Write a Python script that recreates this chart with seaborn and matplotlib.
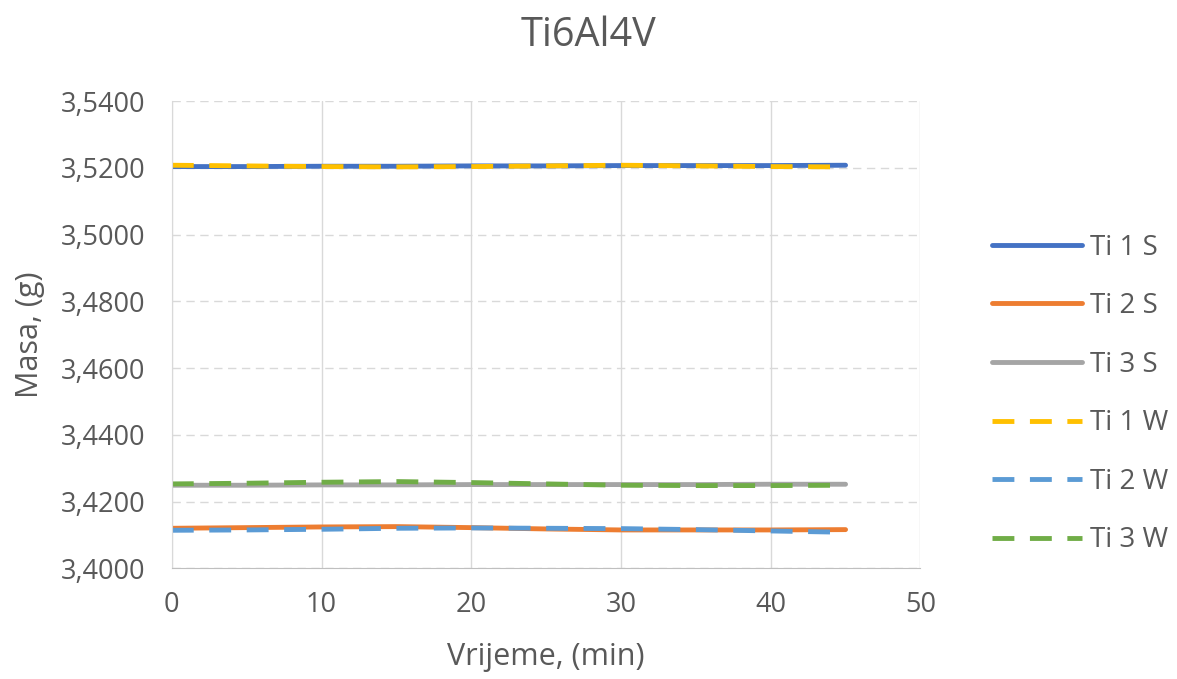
import numpy as np
import pandas as pd
import seaborn as sns
import matplotlib.pyplot as plt
from matplotlib.ticker import FuncFormatter

vrijeme = [0, 5, 10, 15, 20, 25, 30, 35, 40, 45]
ti1_s = [3.5204, 3.5204, 3.5205, 3.5205, 3.5206, 3.5206, 3.5207, 3.5207, 3.5207, 3.5208]
ti2_s = [3.4120, 3.4122, 3.4124, 3.4125, 3.4122, 3.4118, 3.4115, 3.4115, 3.4115, 3.4116]
ti3_s = [3.4249, 3.4249, 3.4250, 3.4250, 3.4251, 3.4251, 3.4251, 3.4251, 3.4252, 3.4252]
ti1_w = [3.5208, 3.5206, 3.5204, 3.5203, 3.5204, 3.5206, 3.5208, 3.5206, 3.5204, 3.5203]
ti2_w = [3.4114, 3.4115, 3.4117, 3.4120, 3.4121, 3.4120, 3.4119, 3.4116, 3.4112, 3.4108]
ti3_w = [3.4253, 3.4255, 3.4258, 3.4260, 3.4257, 3.4253, 3.4249, 3.4248, 3.4248, 3.4249]

serije = ['Ti 1 S', 'Ti 2 S', 'Ti 3 S', 'Ti 1 W', 'Ti 2 W', 'Ti 3 W']
vrijednosti = [ti1_s, ti2_s, ti3_s, ti1_w, ti2_w, ti3_w]
boje = ['#4472C4', '#ED7D31', '#A5A5A5', '#FFC000', '#5B9BD5', '#70AD47']

sns.set_style('white')
plt.rcParams['font.family'] = ['Open Sans', 'DejaVu Sans']

df = pd.DataFrame({
    'Vrijeme': np.tile(vrijeme, len(serije)),
    'Masa': np.concatenate(vrijednosti),
    'Serija': np.repeat(serije, len(vrijeme)),
})

txt = '#595959'
lw = 3.5
fig = plt.figure(figsize=(11.77, 6.79), dpi=100)
ax = fig.add_axes([0.146, 0.163, 0.636, 0.688])

crtice = {s: ('' if s.endswith('S') else (4.5, 3.2)) for s in serije}
sns.lineplot(data=df, x='Vrijeme', y='Masa', hue='Serija', style='Serija',
             palette=dict(zip(serije, boje)), dashes=crtice, linewidth=lw,
             ax=ax, legend=False)

ax.set_xlim(0, 50)
ax.set_ylim(3.40, 3.54)
ax.set_xticks(range(0, 51, 10))
ax.set_yticks(np.arange(3.40, 3.5401, 0.02))
ax.yaxis.set_major_formatter(FuncFormatter(lambda v, p: f'{v:.4f}'.replace('.', ',')))
ax.tick_params(axis='both', length=0, labelsize=19.5, labelcolor=txt)
ax.tick_params(axis='x', pad=16)
ax.tick_params(axis='y', pad=19)

ax.grid(axis='x', color='#D9D9D9', linewidth=1, linestyle='-')
ax.grid(axis='y', color='#D9D9D9', linewidth=1, linestyle=(0, (6, 4)))
ax.set_axisbelow(True)
for s in ['top', 'right']:
    ax.spines[s].set_visible(False)
ax.spines['left'].set_color('#D9D9D9')
ax.spines['bottom'].set_color('#BFBFBF')

ax.set_xlabel('Vrijeme, (min)', fontsize=22, color=txt, va='center')
ax.set_ylabel('Masa, (g)', fontsize=22, color=txt, va='center')
ax.xaxis.set_label_coords(0.5, (568 - 657) / 467)
ax.yaxis.set_label_coords((30 - 172) / 748, 0.5)
fig.text(0.5, 1 - 36 / 679, 'Ti6Al4V', ha='center', va='center', fontsize=28.5, color=txt)

ruke = [plt.Line2D([], [], color=c, linewidth=lw,
                   linestyle='-' if s.endswith('S') else (0, (4.5, 3.2)))
        for s, c in zip(serije, boje)]
fig.legend(ruke, serije, loc='center left', bbox_to_anchor=(992 / 1177, 1 - 394 / 679),
           frameon=False, fontsize=20, labelcolor=txt, handlelength=3.24,
           handletextpad=0.3, labelspacing=1.1, borderaxespad=0, borderpad=0)

fig.savefig('out.png', dpi=100)
